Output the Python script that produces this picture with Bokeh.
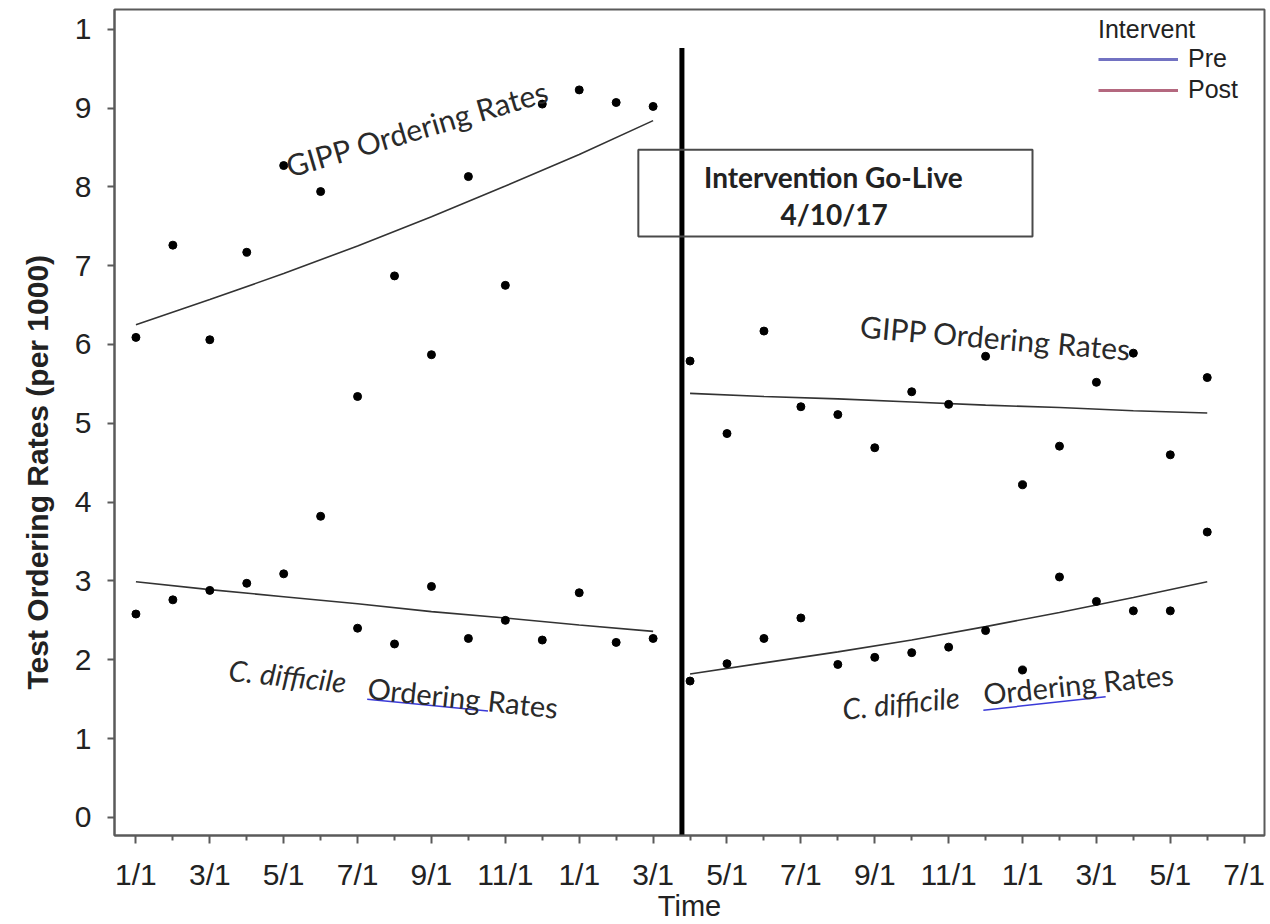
import math
from bokeh.plotting import figure
from bokeh.models import (Range1d, FixedTicker, Label, BoxAnnotation, Legend, LegendItem, Title)
from bokeh.embed import file_html
from bokeh.resources import INLINE

# ---------------- data ----------------
# month index: 0 = Jan 2016
months_pre = list(range(0, 15))      # Jan 2016 .. Mar 2017
months_post = list(range(15, 30))    # Apr 2017 .. Jun 2018

gipp_pre = [6.09, 7.26, 6.06, 7.17, 8.27, 7.94, 5.34, 6.87, 5.87, 8.13, 6.75, 9.05, 9.23, 9.07, 9.02]
cdiff_pre = [2.58, 2.76, 2.88, 2.97, 3.09, 3.82, 2.40, 2.20, 2.93, 2.27, 2.50, 2.25, 2.85, 2.22, 2.27]
gipp_post = [5.79, 4.87, 6.17, 5.21, 5.11, 4.69, 5.40, 5.24, 5.85, 4.22, 4.71, 5.52, 5.89, 4.60, 5.58]
cdiff_post = [1.73, 1.95, 2.27, 2.53, 1.94, 2.03, 2.09, 2.16, 2.37, 1.87, 3.05, 2.74, 2.62, 2.62, 3.62]

# fitted trend lines
fit_months_pre = [0, 2, 4, 6, 8, 10, 12, 14]
fit_gipp_pre = [6.25, 6.57, 6.90, 7.25, 7.62, 8.01, 8.41, 8.84]
fit_cdiff_pre = [2.99, 2.89, 2.80, 2.71, 2.61, 2.53, 2.44, 2.36]
fit_months_post = [15, 17, 19, 21, 23, 25, 27, 29]
fit_gipp_post = [5.38, 5.34, 5.31, 5.27, 5.23, 5.20, 5.16, 5.13]
fit_cdiff_post = [1.82, 1.96, 2.10, 2.25, 2.42, 2.60, 2.79, 2.99]

tick_months = list(range(0, 31, 2))
tick_labels = ["1/1", "3/1", "5/1", "7/1", "9/1", "11/1",
               "1/1", "3/1", "5/1", "7/1", "9/1", "11/1",
               "1/1", "3/1", "5/1", "7/1"]
minor_months = list(range(1, 31, 2))
y_ticks = list(range(0, 11))
y_labels = ["0", "1", "2", "3", "4", "5", "6", "7", "8", "9", "1"]

legend_labels = ["Pre", "Post"]
legend_colors = ["#7272c2", "#b4687f"]

intervention_x = 14.78   # position of the go-live line (between 3/1 and 4/1)

# ---------------- figure ----------------
TICK_FONT = "Liberation Sans"
ANN_FONT = "Lato"
DY = 0.13   # baseline correction for annotation labels

p = figure(width=1266, height=924,
           x_range=Range1d(-0.58, 30.55), y_range=Range1d(-0.23, 10.25),
           output_backend="svg", toolbar_location=None,
           min_border_left=114, min_border_top=9, min_border_right=2, min_border_bottom=85)
p.background_fill_color = "white"
p.border_fill_color = "white"
p.xgrid.visible = False
p.ygrid.visible = False
p.outline_line_color = "#5a5a5a"
p.outline_line_width = 2

# axes
for ax in (p.xaxis[0], p.yaxis[0]):
    ax.axis_line_color = "#5a5a5a"
    ax.axis_line_width = 2
    ax.major_tick_line_color = "#5a5a5a"
    ax.major_tick_line_width = 2
    ax.minor_tick_line_color = "#5a5a5a"
    ax.minor_tick_line_width = 2
    ax.major_tick_in = 0
    ax.minor_tick_in = 0
    ax.major_label_text_font = TICK_FONT
    ax.major_label_text_font_size = "30px"
    ax.major_label_text_color = "#222222"

p.xaxis.ticker = FixedTicker(ticks=tick_months, minor_ticks=minor_months)
p.xaxis.major_label_overrides = {m: l for m, l in zip(tick_months, tick_labels)}
p.xaxis.major_tick_out = 8
p.xaxis.minor_tick_out = 5
p.xaxis.major_label_standoff = 14
p.xaxis.axis_label = "Time"
p.xaxis.axis_label_standoff = -4
p.xaxis.axis_label_text_font = TICK_FONT
p.xaxis.axis_label_text_font_size = "29px"
p.xaxis.axis_label_text_font_style = "normal"
p.xaxis.axis_label_text_color = "#222222"

p.yaxis.ticker = FixedTicker(ticks=y_ticks)
p.yaxis.major_label_overrides = {v: l for v, l in zip(y_ticks, y_labels)}
p.yaxis.major_tick_out = 7
p.yaxis.minor_tick_out = 0
p.yaxis.major_label_standoff = 16

# y axis title, placed off-centre like the reference
p.add_layout(Title(text="Test Ordering Rates (per 1000)", align="left", offset=146,
                   standoff=36, text_font=TICK_FONT, text_font_size="30px",
                   text_font_style="bold", text_color="#222222"), "left")

# text box for intervention
p.add_layout(BoxAnnotation(left=13.6, right=24.27, bottom=7.37, top=8.47,
                           fill_alpha=0, line_color="#4a4a4a", line_alpha=1, line_width=2))
p.add_layout(Label(x=18.88, y=7.99 + DY, text="Intervention Go-Live", text_align="center",
                   text_baseline="alphabetic", text_font=ANN_FONT, text_font_size="28px",
                   text_font_style="bold", text_color="#222222"))
p.add_layout(Label(x=18.9, y=7.52 + DY, text="4/10/17", text_align="center",
                   text_baseline="alphabetic", text_font=ANN_FONT, text_font_size="28px",
                   text_font_style="bold", text_color="#222222"))

# fitted lines
for xs, ys in ((fit_months_pre, fit_gipp_pre), (fit_months_pre, fit_cdiff_pre),
               (fit_months_post, fit_gipp_post), (fit_months_post, fit_cdiff_post)):
    p.line(xs, ys, line_color="#333333", line_width=1.6)

# points
p.scatter(months_pre, gipp_pre, size=8, color="black")
p.scatter(months_pre, cdiff_pre, size=8, color="black")
p.scatter(months_post, gipp_post, size=8, color="black")
p.scatter(months_post, cdiff_post, size=8, color="black")

# intervention line
p.segment(x0=[intervention_x], y0=[-0.23], x1=[intervention_x], y1=[9.76],
          line_color="black", line_width=5)

# annotation texts
def ann(x, y, text, deg, style="normal", size="30px"):
    p.add_layout(Label(x=x, y=y + DY, text=text, angle=math.radians(deg),
                       text_align="left", text_baseline="alphabetic",
                       text_font=ANN_FONT, text_font_size=size,
                       text_font_style=style, text_color="#2a2a2a"))

ann(4.08, 8.13, "GIPP Ordering Rates", 16.4)
ann(19.61, 6.11, "GIPP Ordering Rates", -4.9)
ann(2.52, 1.75, "C. difficile", -6.0, "italic", "29px")
ann(6.28, 1.52, "Ordering Rates", -6.0, "normal", "29px")
ann(19.12, 1.25, "C. difficile", 6.0, "italic", "29px")
ann(22.94, 1.44, "Ordering Rates", 6.0, "normal", "29px")

# spell-check underline under "Ordering"
p.line([6.26, 9.53], [1.50, 1.35], line_color="#3a3ad8", line_width=1.5)
p.line([22.94, 26.25], [1.36, 1.53], line_color="#3a3ad8", line_width=1.5)

# legend
nan = float("nan")
r_pre = p.line(x=[nan], y=[nan], line_color=legend_colors[0], line_width=3)
r_post = p.line(x=[nan], y=[nan], line_color=legend_colors[1], line_width=3)
legend = Legend(items=[LegendItem(label=legend_labels[0], renderers=[r_pre]),
                       LegendItem(label=legend_labels[1], renderers=[r_post])],
                title="Intervent", location="top_right")
legend.border_line_color = None
legend.background_fill_alpha = 0
legend.margin = 6
legend.padding = 10
legend.glyph_width = 80
legend.glyph_height = 22
legend.label_height = 22
legend.label_width = 70
legend.label_standoff = 10
legend.spacing = 2
legend.title_standoff = 0
legend.label_text_font = TICK_FONT
legend.label_text_font_size = "25px"
legend.label_text_color = "#222222"
legend.title_text_font = TICK_FONT
legend.title_text_font_size = "25px"
legend.title_text_font_style = "normal"
legend.title_text_color = "#222222"
p.add_layout(legend)

open("out.html", "w").write(file_html(p, INLINE))
